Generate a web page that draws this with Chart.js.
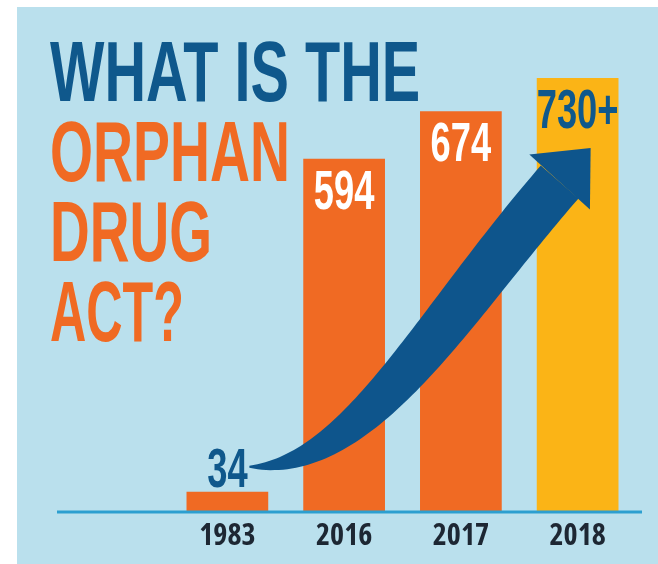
<!DOCTYPE html>
<html>
<head>
<meta charset="utf-8">
<script src="https://cdn.jsdelivr.net/npm/chart.js@4.4.1/dist/chart.umd.min.js"></script>
<style>
html,body{margin:0;padding:0;background:#fff;}
#wrap{position:relative;width:658px;height:564px;overflow:hidden;background:#fff;}
#panel{position:absolute;left:17px;top:7px;right:0;bottom:0;background:#bae0ed;}
#chart{position:absolute;left:0;top:0;}
.t{position:absolute;left:50px;font-family:"Liberation Sans",Arial,sans-serif;font-weight:bold;font-size:86px;line-height:80px;white-space:nowrap;transform-origin:0 0;}
</style>
</head>
<body>
<div id="wrap">
  <div id="panel"></div>
  <div id="title"></div>
  <canvas id="chart" width="658" height="564"></canvas>
</div>
<script>
// ---- data ----
const categories = ['1983', '2016', '2017', '2018'];
const drugCounts = [34, 594, 674, 730];
const valueLabels = ['34', '594', '674', '730+'];
const titleLines = ['WHAT IS THE', 'ORPHAN', 'DRUG', 'ACT?'];

// ---- styles ----
const ORANGE = '#f06a23', YELLOW = '#fbb416', NAVY = '#0f588c', WHITE = '#ffffff';
const barColors = categories.map((c, i) => i === categories.length - 1 ? YELLOW : ORANGE);
const titleWidths = [370, 240, 162, 134];

// title as real text
const titleBox = document.getElementById('title');
titleLines.forEach((line, i) => {
  const d = document.createElement('div');
  d.className = 't';
  d.style.top = (31 + i * 80) + 'px';
  d.style.color = i === 0 ? NAVY : ORANGE;
  d.textContent = line;
  titleBox.appendChild(d);
  const w = d.getBoundingClientRect().width;
  d.style.transform = 'scaleX(' + (titleWidths[i] / w).toFixed(3) + ')';
});

function bez(p0, c1, c2, p3, t) {
  const u = 1 - t;
  return {
    x: u*u*u*p0.x + 3*u*u*t*c1.x + 3*u*t*t*c2.x + t*t*t*p3.x,
    y: u*u*u*p0.y + 3*u*u*t*c1.y + 3*u*t*t*c2.y + t*t*t*p3.y
  };
}
function bezD(p0, c1, c2, p3, t) {
  const u = 1 - t;
  return {
    x: 3*u*u*(c1.x-p0.x) + 6*u*t*(c2.x-c1.x) + 3*t*t*(p3.x-c2.x),
    y: 3*u*u*(c1.y-p0.y) + 6*u*t*(c2.y-c1.y) + 3*t*t*(p3.y-c2.y)
  };
}

const arrowPlugin = {
  id: 'growthArrow',
  afterDatasetsDraw(chart) {
    const meta = chart.getDatasetMeta(0);
    const first = meta.data[0], last = meta.data[meta.data.length - 1];
    const ctx = chart.ctx;
    const p0 = {x: first.x + 22, y: first.y - 25};
    const tip = {x: last.x + 13, y: last.y + 70};
    const p3 = {x: tip.x - 31, y: tip.y + 34};
    const c1 = {x: p0.x + 110, y: p0.y + 3};
    const c2 = {x: p3.x - 120, y: p3.y + 138};
    const N = 80, W = 48;
    const left = [], right = [];
    for (let k = 0; k <= N; k++) {
      const t = k / N;
      const p = bez(p0, c1, c2, p3, t);
      const d = bezD(p0, c1, c2, p3, t);
      const L = Math.hypot(d.x, d.y) || 1;
      const nx = -d.y / L, ny = d.x / L;
      const w = 2 + W * (1 - Math.pow(1 - t, 2.5));
      left.push({x: p.x + nx * w / 2, y: p.y + ny * w / 2});
      right.push({x: p.x - nx * w / 2, y: p.y - ny * w / 2});
    }
    ctx.save();
    ctx.fillStyle = '#0e558c';
    ctx.beginPath();
    left.forEach((p, i) => i ? ctx.lineTo(p.x, p.y) : ctx.moveTo(p.x, p.y));
    for (let i = right.length - 1; i >= 0; i--) ctx.lineTo(right[i].x, right[i].y);
    ctx.closePath();
    ctx.fill();
    const dx = tip.x - p3.x, dy = tip.y - p3.y;
    const L = Math.hypot(dx, dy);
    const nx = -dy / L, ny = dx / L, hw = 41;
    ctx.beginPath();
    ctx.moveTo(p3.x + nx * hw, p3.y + ny * hw);
    ctx.lineTo(tip.x, tip.y);
    ctx.lineTo(p3.x - nx * hw, p3.y - ny * hw);
    ctx.closePath();
    ctx.fill();
    ctx.restore();
  }
};

const baselinePlugin = {
  id: 'baseline',
  afterDatasetsDraw(chart) {
    const ctx = chart.ctx;
    const y = chart.scales.y.getPixelForValue(0);
    ctx.save();
    ctx.strokeStyle = '#2c9fd0';
    ctx.lineWidth = 3;
    ctx.beginPath();
    ctx.moveTo(57, y);
    ctx.lineTo(chart.chartArea.right + 6, y);
    ctx.stroke();
    ctx.restore();
  }
};

const valueLabelPlugin = {
  id: 'valueLabels',
  afterDatasetsDraw(chart) {
    const ctx = chart.ctx;
    const meta = chart.getDatasetMeta(0);
    meta.data.forEach((bar, i) => {
      const inside = i > 0;
      ctx.save();
      ctx.font = 'bold 55px "Liberation Sans", Arial, sans-serif';
      ctx.fillStyle = (i === 0 || i === meta.data.length - 1) ? NAVY : WHITE;
      ctx.textAlign = 'center';
      ctx.textBaseline = 'alphabetic';
      const baseline = inside ? bar.y + 10 + 40 : bar.y - 5;
      ctx.translate(bar.x, baseline);
      ctx.scale(0.66, 1);
      ctx.fillText(valueLabels[i], 0, 0);
      ctx.restore();
    });
  }
};

new Chart(document.getElementById('chart'), {
  type: 'bar',
  data: {
    labels: categories,
    datasets: [{
      data: drugCounts,
      backgroundColor: barColors,
      borderWidth: 0,
      categoryPercentage: 1,
      barPercentage: 0.7
    }]
  },
  options: {
    responsive: false,
    animation: false,
    layout: { padding: { left: 169, right: 22, top: 78, bottom: 4 } },
    plugins: { legend: { display: false }, tooltip: { enabled: false }, title: { display: false } },
    scales: {
      x: {
        grid: { display: false, drawTicks: false },
        border: { display: false },
        ticks: {
          color: '#1d2733',
          padding: 6,
          font: { family: '"Open Sans", "Liberation Sans", sans-serif', weight: 'bold condensed', size: 30 }
        }
      },
      y: { display: false, min: 0, max: Math.max(...drugCounts) }
    }
  },
  plugins: [arrowPlugin, baselinePlugin, valueLabelPlugin]
});
</script>
</body>
</html>
